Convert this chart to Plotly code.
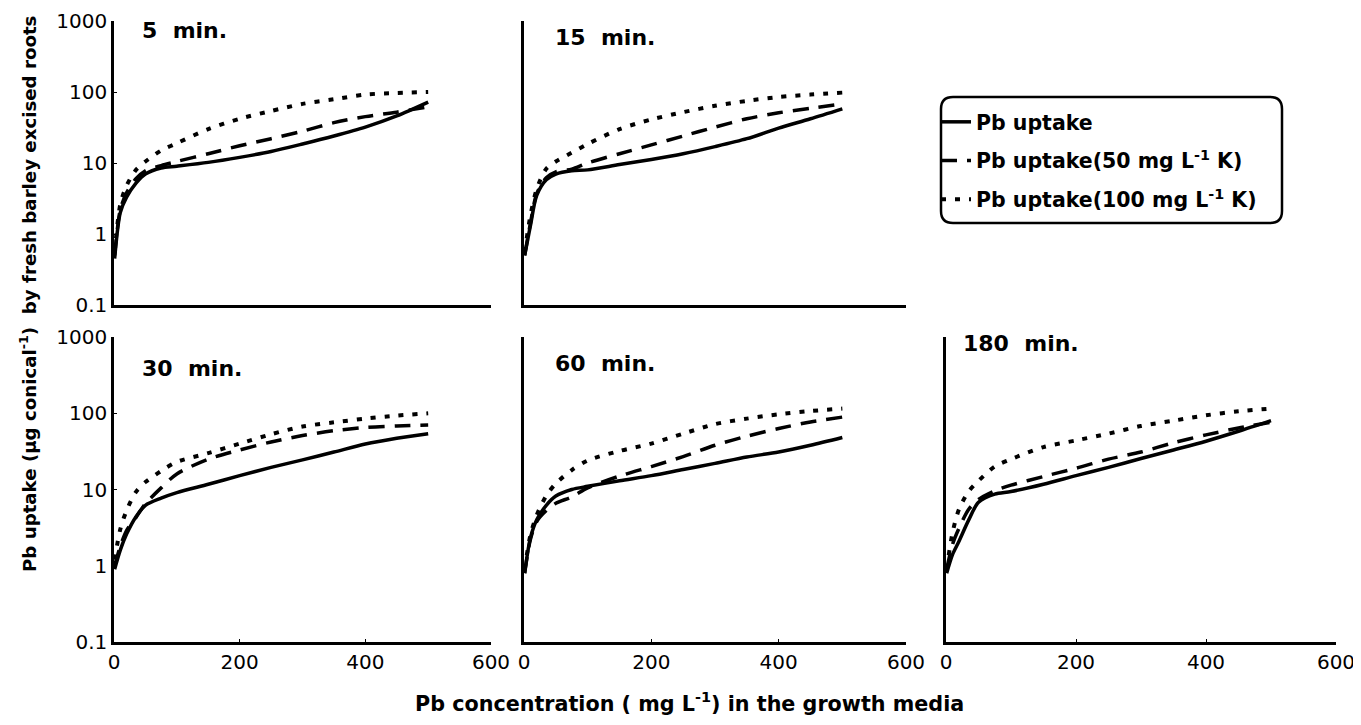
import plotly.graph_objects as go

# ---------------- data ----------------
conc = [1, 10, 20, 35, 50, 75, 100, 150, 200, 250, 300, 350, 400, 450, 500]

panel_titles = ["5 min.", "15 min.", "30 min.", "60 min.", "180 min."]
series_names = ["Pb uptake",
                "Pb uptake(50 mg L<sup>-1</sup> K)",
                "Pb uptake(100 mg L<sup>-1</sup> K)"]

# 5 min
pb_5 = [0.45, 2.0, 3.3, 5.2, 7.0, 8.5, 9.0, 10.2, 12, 14.5, 18.5, 24, 32, 46, 72]
pb50k_5 = [0.5, 2.2, 3.8, 6.0, 7.8, 9.2, 10.5, 13.5, 17.5, 22, 28, 37, 45, 52, 62]
pb100k_5 = [0.55, 2.6, 4.8, 8, 10.5, 15, 19, 30, 42, 54, 68, 79, 92, 97, 100]
# 15 min
pb_15 = [0.5, 1.3, 3.5, 5.8, 7.0, 7.8, 8.0, 9.5, 11.2, 13.5, 17, 22, 31, 42, 58]
pb50k_15 = [0.5, 1.4, 3.7, 6.2, 7.5, 8.2, 10, 13.5, 18, 24, 32, 42, 51, 59, 68]
pb100k_15 = [0.55, 1.8, 4.3, 8.3, 10.5, 14, 18.5, 30, 41, 52, 64, 75, 85, 92, 98]
# 30 min
pb_30 = [0.9, 1.6, 2.6, 4.4, 6.2, 7.7, 9.1, 11.7, 15.2, 19.5, 24.5, 31, 39.5, 47, 54]
pb50k_30 = [1.0, 1.8, 2.9, 4.3, 6.5, 10.5, 16, 25, 33, 42, 51, 59, 65, 68, 70]
pb100k_30 = [1.2, 3.0, 5.3, 9.3, 12.5, 17.5, 23, 30, 40, 53, 67, 76, 85, 93, 100]
# 60 min
pb_60 = [0.8, 2.3, 4.0, 6.2, 8.2, 10, 11, 13, 15.2, 18.3, 22, 26.7, 31, 38, 48]
pb50k_60 = [0.8, 2.2, 3.8, 5.3, 6.6, 8.0, 10.5, 15, 20, 27, 38, 50, 63, 77, 89]
pb100k_60 = [0.9, 2.5, 4.6, 8.3, 12, 18, 24, 32, 40, 54, 72, 85, 97, 107, 115]
# 180 min
pb_180 = [0.8, 1.4, 2.1, 4.0, 6.8, 8.7, 9.4, 11.7, 15.2, 19.5, 25.5, 33, 43, 58, 80]
pb50k_180 = [0.9, 1.9, 3.1, 5.5, 7.4, 9.6, 11.4, 14.8, 19, 25, 31, 41, 52, 64, 76]
pb100k_180 = [0.9, 2.7, 5.5, 9.5, 13, 20, 25, 36, 44, 54, 68, 80, 94, 106, 115]

panels = [
    (pb_5, pb50k_5, pb100k_5),
    (pb_15, pb50k_15, pb100k_15),
    (pb_30, pb50k_30, pb100k_30),
    (pb_60, pb50k_60, pb100k_60),
    (pb_180, pb50k_180, pb100k_180),
]

y_tickvals = [0.1, 1, 10, 100, 1000]
y_ticktext = ["0.1", "1", "10", "100", "1000"]
x_tickvals = [0, 200, 400, 600]
x_ticktext = ["0", "200", "400", "600"]

# ---------------- layout geometry ----------------
W, H = 1361, 725
OFF = 8  # page body margin in the browser
def px_x(p):
    return (p - OFF) / W
def px_y(p):
    return 1 - (p - OFF) / H

col_dom = [(114, 491), (524, 906), (946, 1336)]
row_dom = [(21, 305), (337, 642)]
# panel -> (col, row)
panel_pos = [(0, 0), (1, 0), (0, 1), (1, 1), (2, 1)]
title_pos = [(140, 31), (553, 38), (140, 368), (553, 363), (961, 343)]

dashes = ["solid", "16px,10px", "5px,9px"]
widths = [3.5, 3.5, 4]

fig = go.Figure()
font_family = "DejaVu Sans, Liberation Sans, Arial, sans-serif"

for i, (vals, (c, r)) in enumerate(zip(panels, panel_pos)):
    ax = "" if i == 0 else str(i + 1)
    for k in range(3):
        fig.add_trace(go.Scatter(
            x=conc, y=vals[k], mode="lines",
            line=dict(color="black", width=widths[k], dash=dashes[k], shape="spline", smoothing=0.8),
            name="<b>" + series_names[k] + "</b>", legendgroup=f"g{k}",
            showlegend=(i == 0),
            xaxis="x" + ax, yaxis="y" + ax,
        ))
    x0, x1 = col_dom[c]
    y0, y1 = row_dom[r]
    xa = dict(
        domain=[px_x(x0), px_x(x1)], range=[0, 600], anchor="y" + ax,
        showline=True, linecolor="black", linewidth=2.5, showgrid=False, zeroline=False,
        automargin=False, fixedrange=True, ticklabeloverflow="allow",
        tickfont=dict(family=font_family, size=20, color="black"),
    )
    if r == 1:
        xa.update(tickvals=x_tickvals, ticktext=x_ticktext, ticks="inside", ticklen=3,
                  tickcolor="black", showticklabels=True)
    else:
        xa.update(ticks="", showticklabels=False)
    ya = dict(
        domain=[px_y(y1), px_y(y0)], type="log", range=[-1, 3], anchor="x" + ax,
        showline=True, linecolor="black", linewidth=2.5, showgrid=False, zeroline=False,
        automargin=False, fixedrange=True, ticklabeloverflow="allow",
        tickfont=dict(family=font_family, size=20, color="black"),
    )
    if c == 0:
        ya.update(tickvals=y_tickvals, ticktext=y_ticktext, ticks="inside", ticklen=3,
                  tickcolor="black", showticklabels=True)
    else:
        ya.update(ticks="", showticklabels=False)
    fig.update_layout(**{"xaxis" + ax: xa, "yaxis" + ax: ya})
    tx, ty = title_pos[i]
    fig.add_annotation(
        text="<b>" + panel_titles[i].replace(" ", "&nbsp;&nbsp;") + "</b>",
        x=px_x(tx), y=px_y(ty), xref="paper", yref="paper",
        xanchor="left", yanchor="middle", showarrow=False,
        font=dict(family=font_family, size=22, color="black"),
    )

# axis titles
fig.add_annotation(
    text="<b>Pb concentration ( mg L<sup>-1</sup>) in the growth media</b>",
    x=px_x(689), y=px_y(702), xref="paper", yref="paper",
    xanchor="center", yanchor="middle", showarrow=False,
    font=dict(family=font_family, size=20.7, color="black"),
)
fig.add_annotation(
    text="<b>Pb uptake (µg conical<sup>-1</sup>)  by fresh barley excised roots</b>",
    x=px_x(28), y=px_y(294), xref="paper", yref="paper", textangle=-90,
    xanchor="center", yanchor="middle", showarrow=False,
    font=dict(family=font_family, size=18.2, color="black"),
)

# rounded legend frame
lx0, lx1, ly0, ly1 = px_x(941), px_x(1282), px_y(223), px_y(97)
rx, ry = 12 / W, 12 / H
path = (f"M {lx0+rx},{ly1} L {lx1-rx},{ly1} Q {lx1},{ly1} {lx1},{ly1-ry} "
        f"L {lx1},{ly0+ry} Q {lx1},{ly0} {lx1-rx},{ly0} "
        f"L {lx0+rx},{ly0} Q {lx0},{ly0} {lx0},{ly0+ry} "
        f"L {lx0},{ly1-ry} Q {lx0},{ly1} {lx0+rx},{ly1} Z")
fig.add_shape(type="path", path=path, xref="paper", yref="paper",
              line=dict(color="black", width=2.5))

fig.update_layout(
    width=W, height=H,
    margin=dict(l=0, r=0, t=0, b=0, autoexpand=False),
    paper_bgcolor="white", plot_bgcolor="white",
    showlegend=True,
    legend=dict(
        x=px_x(936), y=px_y(102), xanchor="left", yanchor="top",
        bgcolor="rgba(0,0,0,0)", borderwidth=0,
        font=dict(family=font_family, size=20.5, color="black"),
        traceorder="grouped", tracegroupgap=9, itemwidth=30,
    ),
)

fig.write_html("out.html")
